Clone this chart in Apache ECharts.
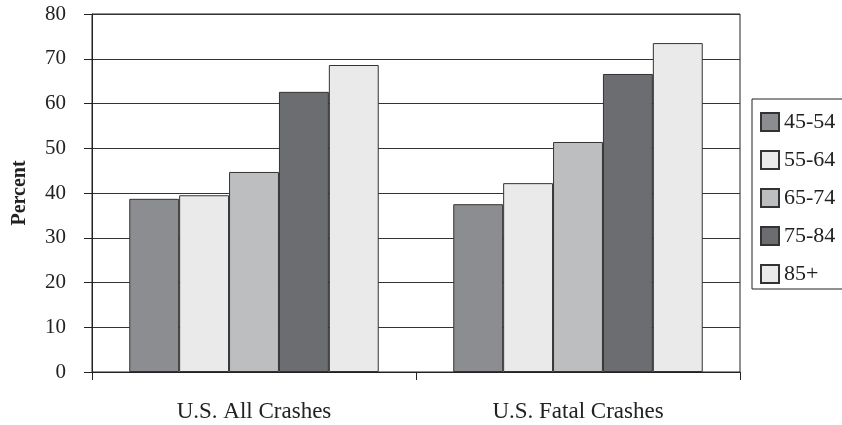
<!DOCTYPE html>
<html><head><meta charset="utf-8">
<script src="https://cdn.jsdelivr.net/npm/echarts@6/dist/echarts.min.js"></script>
<style>html,body{margin:0;padding:0;background:#fff}#c{width:842px;height:425px}</style>
</head><body><div id="c"></div>
<script>
const categories = ['U.S. All Crashes', 'U.S. Fatal Crashes'];
const seriesNames = ['45-54', '55-64', '65-74', '75-84', '85+'];
const v4554 = [38.7, 37.5];
const v5564 = [39.5, 42.2];
const v6574 = [44.7, 51.4];
const v7584 = [62.6, 66.6];
const v85 = [68.6, 73.5];
const yTicks = [0, 10, 20, 30, 40, 50, 60, 70, 80];
const colors = ['#8c8d91', '#e9eae9', '#bdbec0', '#6c6d71', '#e9eae9'];
const values = [v4554, v5564, v6574, v7584, v85];
const font = 'Liberation Serif';
const chart = echarts.init(document.getElementById('c'));
chart.setOption({
  animation: false,
  textStyle: { fontFamily: font, color: '#222' },
  grid: { left: 92, right: 102, top: 14, bottom: 53, show: true, borderColor: '#222', borderWidth: 1 },
  legend: {
    orient: 'vertical', left: 752, top: 99,
    data: seriesNames,
    itemWidth: 18, itemHeight: 18, itemGap: 16,
    padding: [12, 30, 4, 8],
    borderColor: '#222', borderWidth: 1,
    textStyle: { fontFamily: font, fontSize: 22, color: '#222', padding: [0, 0, 0, 0] },
    icon: 'rect'
  },
  xAxis: {
    type: 'category', data: categories,
    axisLine: { lineStyle: { color: '#222' } },
    axisTick: { show: true, alignWithLabel: false, length: 8, lineStyle: { color: '#222' } },
    axisLabel: { fontFamily: font, fontSize: 23, color: '#222', margin: 28 }
  },
  yAxis: {
    type: 'value', min: yTicks[0], max: yTicks[yTicks.length - 1], interval: 10,
    name: 'Percent', nameLocation: 'middle', nameGap: 62,
    nameTextStyle: { fontFamily: font, fontSize: 20, fontWeight: 'bold', color: '#222' },
    axisLine: { show: true, lineStyle: { color: '#222' } },
    axisTick: { show: true, length: 8, lineStyle: { color: '#222' } },
    axisLabel: { fontFamily: font, fontSize: 21, color: '#222', margin: 26 },
    splitLine: { show: true, lineStyle: { color: '#333', width: 1 } }
  },
  series: seriesNames.map((n, i) => ({
    name: n, type: 'bar', data: values[i],
    barGap: '0%', barCategoryGap: '23%',
    itemStyle: { color: colors[i], borderColor: '#333', borderWidth: 1 }
  }))
});
</script></body></html>
